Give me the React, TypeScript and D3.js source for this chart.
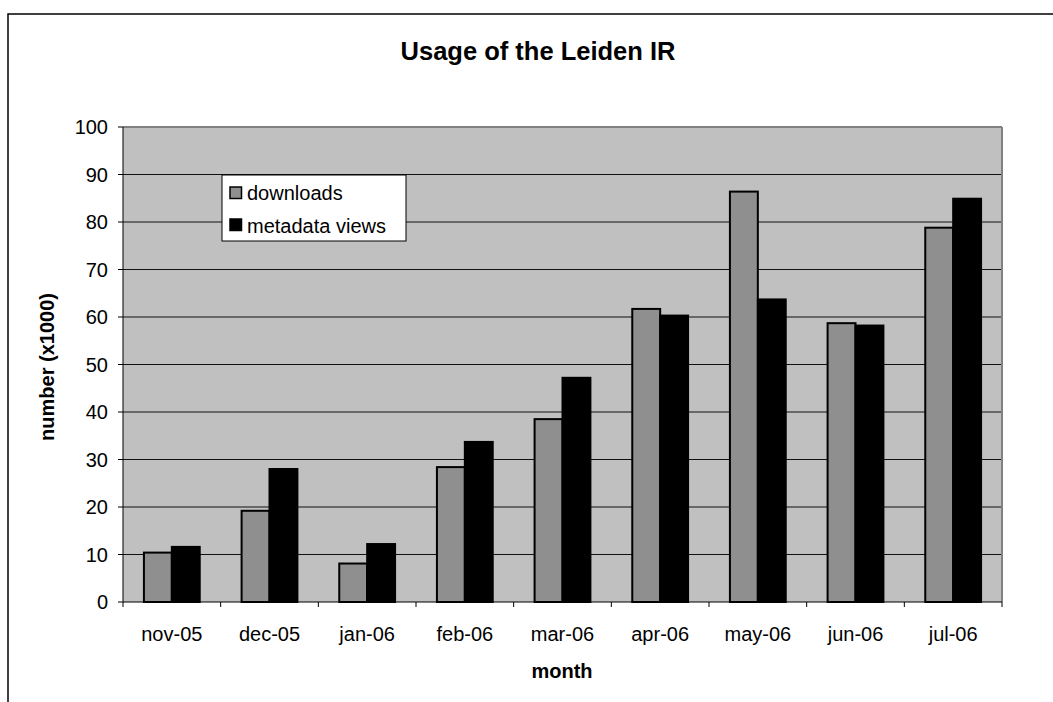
import React from "react";
import * as d3 from "d3";

const months = ["nov-05", "dec-05", "jan-06", "feb-06", "mar-06", "apr-06", "may-06", "jun-06", "jul-06"];
const downloads = [10.4, 19.2, 8.1, 28.4, 38.5, 61.7, 86.4, 58.7, 78.8];
const metadataViews = [11.6, 28.0, 12.2, 33.7, 47.2, 60.3, 63.7, 58.2, 84.9];
const yTicks = [0, 10, 20, 30, 40, 50, 60, 70, 80, 90, 100];
const seriesNames = ["downloads", "metadata views"];
const seriesColors = ["#8f8f8f", "#000000"];

export default function App() {
  const W = 1053, H = 702;
  const left = 123, right = 1002, top = 127, bottom = 602;
  const x = d3.scaleBand<string>().domain(months).range([left, right]).paddingInner(0).paddingOuter(0);
  const y = d3.scaleLinear().domain([0, 100]).range([bottom, top]);
  const bw = x.bandwidth();
  const barW = bw / 3.5;
  const sub = d3.scaleBand<number>().domain([0, 1]).range([0, barW * 2]);
  const font = "Liberation Sans, Arial, sans-serif";
  const series = [downloads, metadataViews];

  return (
    <svg width={W} height={H} style={{ position: "absolute", left: 0, top: 0, background: "#fff" }} fontFamily={font}>
      <rect x={8} y={14} width={1200} height={900} fill="#fff" stroke="#000" strokeWidth={1.5} />
      <text x={538} y={60} textAnchor="middle" fontWeight="bold" fontSize={25.5}>Usage of the Leiden IR</text>
      <rect x={left} y={top} width={right - left} height={bottom - top} fill="#c0c0c0" />
      {yTicks.filter(t => t > 0 && t < 100).map(t => (
        <line key={t} x1={left} x2={right} y1={y(t)} y2={y(t)} stroke="#111" strokeWidth={1} />
      ))}
      <line x1={left} x2={right} y1={top} y2={top} stroke="#808080" strokeWidth={2} />
      <line x1={right} x2={right} y1={top} y2={bottom} stroke="#808080" strokeWidth={2} />
      {series.map((vals, si) =>
        months.map((m, i) => {
          const bx = (x(m) as number) + (bw - barW * 2) / 2 + (sub(si) as number);
          return (
            <rect key={si + "-" + m} x={bx} y={y(vals[i])} width={barW} height={bottom - y(vals[i])}
              fill={seriesColors[si]} stroke="#000" strokeWidth={2} />
          );
        })
      )}
      <line x1={left} x2={left} y1={top} y2={bottom} stroke="#000" strokeWidth={1} />
      <line x1={left} x2={right} y1={bottom} y2={bottom} stroke="#000" strokeWidth={1} />
      {yTicks.map(t => (
        <g key={t}>
          <line x1={left - 5} x2={left} y1={y(t)} y2={y(t)} stroke="#000" />
          <text x={108} y={y(t)} dy="0.35em" textAnchor="end" fontSize={20}>{t}</text>
        </g>
      ))}
      {months.map((m, i) => (
        <g key={m}>
          <line x1={x(m) as number} x2={x(m) as number} y1={bottom} y2={bottom + 5} stroke="#000" />
          <text x={(x(m) as number) + bw / 2} y={641} textAnchor="middle" fontSize={20}>{m}</text>
        </g>
      ))}
      <line x1={right} x2={right} y1={bottom} y2={bottom + 5} stroke="#000" />
      <text x={562} y={678} textAnchor="middle" fontWeight="bold" fontSize={20}>month</text>
      <text transform="translate(47,367) rotate(-90)" dy="0.35em" textAnchor="middle" fontWeight="bold" fontSize={20}>number (x1000)</text>
      <g>
        <rect x={222} y={175} width={184} height={66} fill="#fff" stroke="#000" strokeWidth={1} />
        {seriesNames.map((n, i) => (
          <g key={n}>
            <rect x={230} y={187 + i * 32} width={11.5} height={11.5} fill={seriesColors[i]} stroke="#000" strokeWidth={1.5} />
            <text x={247} y={199.5 + i * 33} fontSize={20}>{n}</text>
          </g>
        ))}
      </g>
    </svg>
  );
}
